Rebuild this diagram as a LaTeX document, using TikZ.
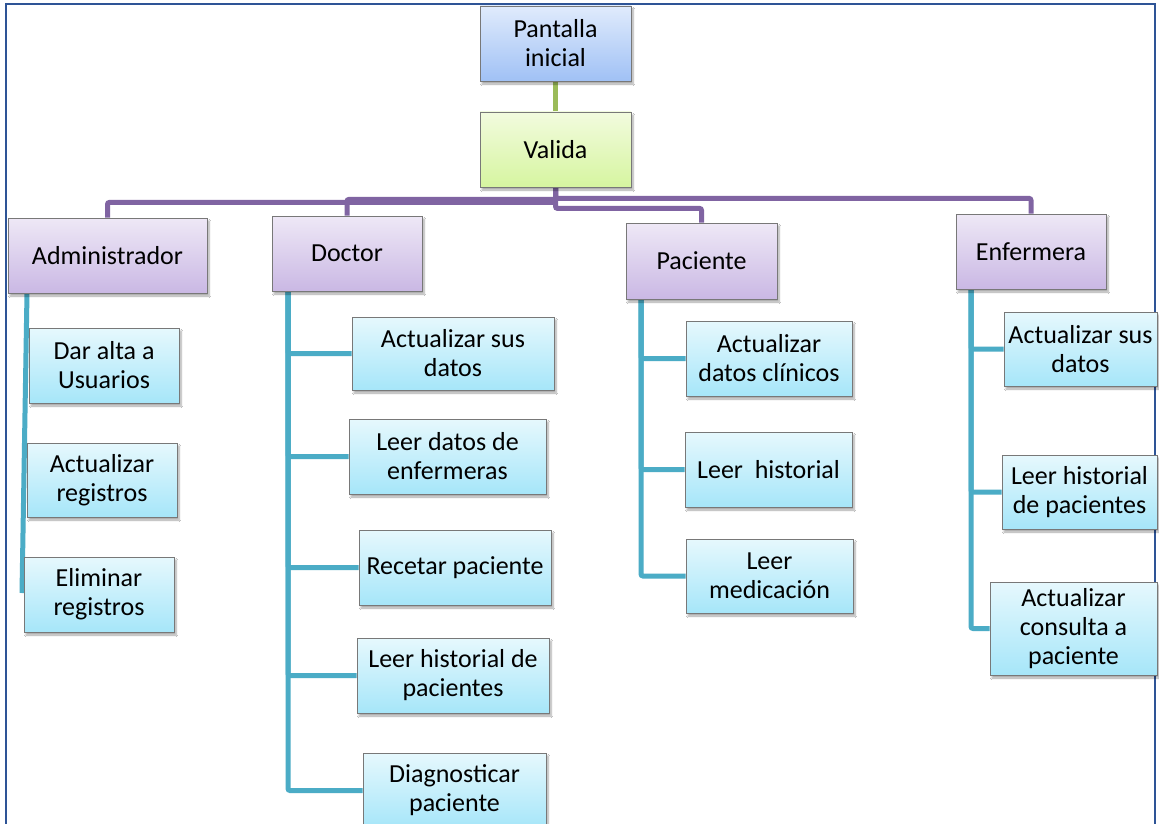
\documentclass[tikz,border=0pt]{standalone}
\usepackage{fontspec}
\setmainfont{Carlito}
\usetikzlibrary{shadows.blur,backgrounds}
\definecolor{framec}{RGB}{46,84,150}
\definecolor{purpl}{RGB}{128,100,162}
\definecolor{tealc}{RGB}{75,172,198}
\definecolor{greenc}{RGB}{155,187,89}
\definecolor{bordc}{RGB}{120,120,120}
\tikzset{
  base/.style={draw=bordc, line width=0.8pt, align=center, inner sep=1pt,
    font=\fontsize{26}{29}\selectfont,
    blur shadow={shadow xshift=2pt, shadow yshift=-3pt, shadow blur steps=6, shadow opacity=35}},
  bluebox/.style={base, top color={rgb,255:red,224;green,235;blue,252}, bottom color={rgb,255:red,160;green,193;blue,245}},
  greenbox/.style={base, top color={rgb,255:red,242;green,251;blue,222}, bottom color={rgb,255:red,214;green,245;blue,160}},
  purplebox/.style={base, top color={rgb,255:red,238;green,232;blue,246}, bottom color={rgb,255:red,202;green,184;blue,228}},
  cyanbox/.style={base, top color={rgb,255:red,230;green,248;blue,253}, bottom color={rgb,255:red,166;green,230;blue,249}},
  purpline/.style={draw=purpl, line width=5pt, rounded corners=2pt},
  tealline/.style={draw=tealc, line width=5pt, rounded corners=2pt},
  greenline/.style={draw=greenc, line width=5pt},
}
\newcommand{\bx}[6]{\node[#1, minimum width=#4pt, minimum height=#5pt] (#6) at (#2,#3)}
\begin{document}
\begin{tikzpicture}[x=1pt,y=-1pt]
\useasboundingbox (0,0) rectangle (1159,824);

% nodes
\bx{bluebox}{555.5}{43.5}{151}{75}{pant} {Pantalla\\inicial};
\bx{greenbox}{555.5}{149.5}{151}{75}{val} {Valida};
\bx{purplebox}{107.5}{255.5}{199}{75}{adm} {Administrador};
\bx{purplebox}{347}{253.5}{150}{75}{doc} {Doctor};
\bx{purplebox}{701.5}{261}{151}{76}{pac} {Paciente};
\bx{purplebox}{1031}{251.5}{150}{75}{enf} {Enfermera};

\bx{cyanbox}{104}{365.5}{150}{75}{a1} {Dar alta a\\Usuarios};
\bx{cyanbox}{102}{480}{150}{74}{a2} {Actualizar\\registros};
\bx{cyanbox}{99}{594.5}{150}{75}{a3} {Eliminar\\registros};

\bx{cyanbox}{453}{353.5}{202}{73}{d1} {Actualizar sus\\datos};
\bx{cyanbox}{447.5}{456.5}{197}{75}{d2} {Leer datos de\\enfermeras};
\bx{cyanbox}{455}{567.5}{192}{75}{d3} {Recetar paciente};
\bx{cyanbox}{453}{675.5}{192}{75}{d4} {Leer historial de\\pacientes};
\bx{cyanbox}{454.5}{790.5}{183}{75}{d5} {Diagnosticar\\paciente};

\bx{cyanbox}{769}{358.5}{166}{75}{p1} {Actualizar\\datos clínicos};
\bx{cyanbox}{768.5}{469.5}{167}{75}{p2} {Leer~~historial};
\bx{cyanbox}{769.5}{576}{167}{74}{p3} {Leer\\medicación};

\bx{cyanbox}{1080.5}{349}{153}{74}{e1} {Actualizar sus\\datos};
\bx{cyanbox}{1079.5}{492}{155}{74}{e2} {Leer historial\\de pacientes};
\bx{cyanbox}{1073.5}{628.5}{167}{93}{e3} {Actualizar\\consulta a\\paciente};

\begin{scope}[on background layer]
\fill[white] (0,0) rectangle (1159,824);
\draw[framec, line width=2pt] (6,840) -- (6,4) -- (1155,4) -- (1155,840);

\draw[greenline] (pant.south) -- (val.north);
\draw[purpline] (val.south) -- ++(0,15) -| (adm.north);
\draw[purpline] (val.south) -- ++(0,12) -| (doc.north);
\draw[purpline] (val.south) -- ++(0,11) -| (enf.north);
\draw[purpline] (val.south) -- ++(0,21) -| (pac.north);

\coordinate (atop) at (27,293);
\coordinate (aend) at (22,593);
\draw[tealline] (atop) -- (aend);

\coordinate (dtop) at (288,291);
\coordinate (ptop) at (641,299);
\coordinate (etop) at (971,289);
\foreach \c in {d1,d2,d3,d4,d5} \draw[tealline] (dtop) |- (\c.west);
\foreach \c in {p1,p2,p3} \draw[tealline] (ptop) |- (\c.west);
\foreach \c in {e1,e2,e3} \draw[tealline] (etop) |- (\c.west);
\end{scope}
\end{tikzpicture}
\end{document}
